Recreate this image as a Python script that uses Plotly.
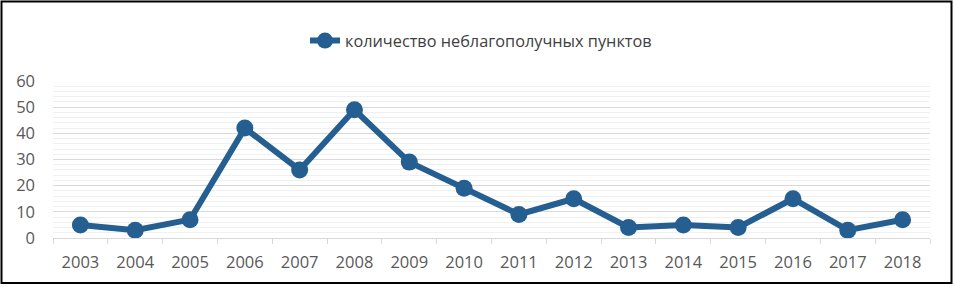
import plotly.graph_objects as go

years = ["2003", "2004", "2005", "2006", "2007", "2008", "2009", "2010",
         "2011", "2012", "2013", "2014", "2015", "2016", "2017", "2018"]
counts = [5, 3, 7, 42, 26, 49, 29, 19, 9, 15, 4, 5, 4, 15, 3, 7]
series_name = "количество неблагополучных пунктов"
y_ticks = [0, 10, 20, 30, 40, 50, 60]

W, H = 954, 287
L, R, T, B = 53, 24, 81, 49
pw, ph = W - L - R, H - T - B

def px(x):
    return (x - L) / pw

def py(y):
    return (H - B - y) / ph

fig = go.Figure()
fig.add_trace(go.Scatter(
    x=years, y=counts, name=series_name, mode="lines+markers",
    line=dict(color="#255e91", width=6),
    marker=dict(color="#255e91", size=17),
))

fig.update_layout(
    width=W, height=H,
    margin=dict(l=L, r=R, t=T, b=B),
    paper_bgcolor="white", plot_bgcolor="white",
    font=dict(family="Open Sans", color="#595959", size=16),
    showlegend=True,
    legend=dict(orientation="h", x=px(481), xanchor="center", y=py(41), yanchor="middle",
                font=dict(size=16.3, color="#404040"), bgcolor="rgba(0,0,0,0)",
                itemwidth=30, itemsizing="trace"),
    xaxis=dict(type="category", range=[-0.5, len(years) - 0.5], showgrid=False,
               showline=True, linecolor="#d9d9d9", linewidth=1,
               ticks="outside", tickson="boundaries", ticklen=5, tickcolor="#d9d9d9",
               ticklabelstandoff=9,
               tickfont=dict(size=16.5, color="#595959"), zeroline=False),
    yaxis=dict(range=[0, 60], tickvals=y_ticks, showgrid=True, gridcolor="#d9d9d9", gridwidth=1,
               zeroline=False, showline=False, ticks="", ticklabelstandoff=17,
               tickfont=dict(size=16.5, color="#595959"),
               minor=dict(dtick=2, showgrid=True, gridcolor="#f0f0f0", gridwidth=1)),
    shapes=[dict(type="rect", xref="paper", yref="paper",
                 x0=px(1.5), x1=px(951.5), y0=py(283), y1=py(1.5),
                 line=dict(color="black", width=2), fillcolor="rgba(0,0,0,0)", layer="above")],
)

fig.write_html("out.html", config={"displayModeBar": False},
               post_script="document.body.style.margin='0';document.body.style.overflow='hidden';")
